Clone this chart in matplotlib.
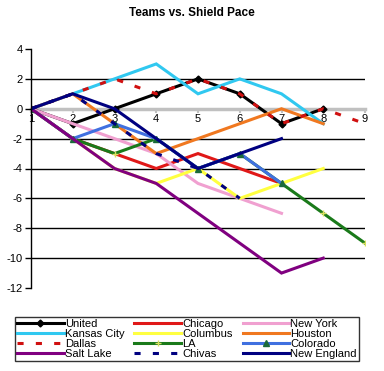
import numpy as np
import matplotlib
matplotlib.use("Agg")
import matplotlib.pyplot as plt
from matplotlib.lines import Line2D

nan = np.nan
categories = [1, 2, 3, 4, 5, 6, 7, 8, 9]
united = [0, -1, 0, 1, 2, 1, -1, 0, nan]
chicago = [0, -2, -3, -4, -3, -4, -5, nan, nan]
new_york = [0, -1, -2, -3, -5, -6, -7, nan, nan]
kansas_city = [0, 1, 2, 3, 1, 2, 1, -1, nan]
columbus = [0, -2, -4, -5, -4, -6, -5, -4, nan]
houston = [0, 1, -1, -3, -2, -1, 0, -1, nan]
dallas = [0, 1, 2, 1, 2, 1, -1, 0, -1]
la = [0, -2, -3, -2, -4, -3, -5, -7, -9]
colorado = [0, -2, -1, -2, -4, -3, -5, nan, nan]
salt_lake = [0, -2, -4, -5, -7, -9, -11, -10, nan]
chivas = [0, 1, -1, -3, -4, -6, nan, nan, nan]
new_england = [0, 1, 0, -2, -4, -3, -2, nan, nan]
yticks = [4, 2, 0, -2, -4, -6, -8, -10, -12]

plt.rcParams['font.family'] = ['Liberation Sans', 'DejaVu Sans']

fig = plt.figure(figsize=(3.84, 3.71), dpi=100)
ax = fig.add_axes([31/384, 1-288/371, (365-31)/384, (288-49)/371])

lw = 2.2
series = [
    ("United", united, dict(color="black", marker="D", markersize=3.5)),
    ("Chicago", chicago, dict(color="#e01818")),
    ("New York", new_york, dict(color="#f0a0d0")),
    ("Kansas City", kansas_city, dict(color="#30c8f0")),
    ("Columbus", columbus, dict(color="#ffff40")),
    ("Houston", houston, dict(color="#f07820")),
    ("Dallas", dallas, dict(color="#d01010", linestyle=(0, (2, 4)))),
    ("LA", la, dict(color="#1a7a1a", marker="+", markersize=4, markeredgecolor="#d8e060", markeredgewidth=1)),
    ("Colorado", colorado, dict(color="#4070e0", marker="^", markersize=4, markerfacecolor="#1a6a3a", markeredgecolor="#1a6a3a")),
    ("Salt Lake", salt_lake, dict(color="#800080")),
    ("Chivas", chivas, dict(color="#000080", linestyle=(0, (2, 4)))),
    ("New England", new_england, dict(color="#000080")),
]

handles = {}
for name, vals, kw in series:
    h, = ax.plot(categories, vals, lw=lw, label=name, solid_joinstyle="miter", **kw)
    handles[name] = h

ax.set_xlim(1, 9)
ax.set_ylim(-12, 4)
ax.set_yticks(yticks)
ax.set_yticklabels([str(v) for v in yticks], fontsize=8)
for v in yticks:
    if v not in (0, 4, -12):
        ax.axhline(v, color="black", lw=1, zorder=0)

ax.spines['top'].set_visible(False)
ax.spines['right'].set_visible(False)
ax.spines['left'].set_color("black")
ax.spines['left'].set_linewidth(1)
ax.spines['bottom'].set_position(('data', 0))
ax.spines['bottom'].set_color("#c0c0c0")
ax.spines['bottom'].set_linewidth(2.5)
ax.spines['bottom'].set_zorder(0.5)
ax.set_xticks(categories)
ax.set_xticklabels([str(c) for c in categories], fontsize=8)
ax.tick_params(axis='x', direction='out', length=3, color="#c0c0c0", width=1.5, pad=1)
ax.tick_params(axis='y', direction='out', length=4, color="black", width=1, pad=2)

fig.suptitle("Teams vs. Shield Pace", fontsize=8.5, fontweight="bold", y=1-13/371, va="center", x=0.5)

order = ["United", "Kansas City", "Dallas", "Salt Lake",
         "Chicago", "Columbus", "LA", "Chivas",
         "New York", "Houston", "Colorado", "New England"]
leg = fig.legend([handles[n] for n in order], order, ncol=3, loc="center",
                 bbox_to_anchor=(187/384, 1-339/371), fontsize=8,
                 handlelength=4.2, handletextpad=0.1, labelspacing=0.0,
                 columnspacing=0.9, borderpad=0.2, frameon=True, fancybox=False)
leg.get_frame().set_edgecolor("black")
leg.get_frame().set_linewidth(1)

fig.savefig("out.png", dpi=100)
